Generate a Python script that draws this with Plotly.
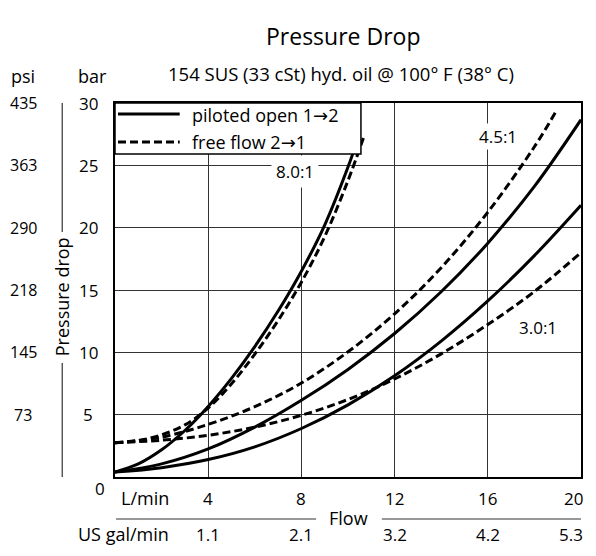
import plotly.graph_objects as go

# ---------------- data ----------------
# 8.0:1 ratio
q_80_pil = [0, 1, 2, 3, 4, 5, 6, 7, 8, 9, 10, 10.4]
p_80_pil = [0.4, 1.05, 2.18, 3.73, 5.66, 7.91, 10.46, 13.31, 16.51, 20.21, 24.86, 27.0]
q_80_free = [0, 1, 2, 3, 4, 5, 6, 7, 8, 9, 10, 10.7]
p_80_free = [2.75, 2.93, 3.38, 4.18, 5.53, 7.48, 9.86, 12.56, 15.63, 19.28, 23.78, 27.4]
# 4.5:1 ratio
q_45_pil = [0, 2, 4, 6, 8, 10, 12, 14, 16, 18, 20]
p_45_pil = [0.4, 1.05, 2.25, 4.0, 6.15, 8.63, 11.51, 14.86, 18.76, 23.31, 28.66]
q_45_free = [0, 2, 4, 6, 8, 10, 12, 14, 16, 18, 18.95]
p_45_free = [2.75, 3.2, 4.22, 5.64, 7.54, 10.04, 13.09, 16.79, 21.24, 26.49, 29.4]
# 3.0:1 ratio
q_30_pil = [0, 2, 4, 6, 8, 10, 12, 14, 16, 18, 20]
p_30_pil = [0.4, 0.75, 1.4, 2.42, 3.89, 5.79, 8.12, 10.9, 14.12, 17.76, 21.8]
q_30_free = [0, 2, 4, 6, 8, 10, 12, 14, 16, 18, 20]
p_30_free = [2.75, 2.95, 3.35, 4.0, 4.95, 6.22, 7.86, 9.88, 12.23, 14.88, 18.0]

flow_ticks = [4, 8, 12, 16, 20]
gal_labels = ["1.1", "2.1", "3.2", "4.2", "5.3"]
bar_ticks = [5, 10, 15, 20, 25, 30]
psi_labels = ["73", "145", "218", "290", "363", "435"]
ratio_labels = ["8.0:1", "4.5:1", "3.0:1"]
ARROW = "<span style='font-family:DejaVu Sans'>\u2192</span>"
legend_texts = ["piloted open 1" + ARROW + "2", "free flow 2" + ARROW + "1"]

# ---------------- layout geometry (screen pixels) ----------------
OFF = 8                      # page body margin
W, H = 596 - 2 * OFF, 556 - 2 * OFF
RIGHT, BOTTOM = OFF + W, OFF + H   # last visible screen pixel of the figure
PL, PR, PT, PB = 115, 583, 103, 477
PW, PH = PR - PL, PB - PT


def px(x):
    return (x - PL) / PW


def py(y):
    return (PB - y) / PH


FONT = "Open Sans"
BLACK = "#000000"
GRID = "#333333"
FS = 18
FN = 17

fig = go.Figure()

curves = [
    (q_80_pil, p_80_pil, "solid"),
    (q_80_free, p_80_free, "8px,4px"),
    (q_45_pil, p_45_pil, "solid"),
    (q_45_free, p_45_free, "8px,4px"),
    (q_30_pil, p_30_pil, "solid"),
    (q_30_free, p_30_free, "8px,4px"),
]
for q, p, dash in curves:
    fig.add_trace(go.Scatter(
        x=q, y=p, mode="lines",
        line=dict(color=BLACK, width=3, dash=dash, shape="spline", smoothing=1),
        showlegend=False, hoverinfo="skip"))

ann = []
shapes = []


def text(t, x, y, size=FS, xref="paper", yref="paper", **kw):
    d = dict(text=t, xref=xref, yref=yref, x=x, y=y, showarrow=False,
             xanchor="center", yanchor="middle",
             font=dict(size=size, family=FONT, color=BLACK))
    d.update(kw)
    ann.append(d)


# title / subtitle
text("Pressure Drop", px(344), py(36), size=23)
text("154 SUS (33 cSt) hyd. oil @ 100\u00b0 F (38\u00b0 C)", px(342), py(74), size=18.5)

# y headers
text("psi", px(23), py(76))
text("bar", px(92), py(76))

# bar and psi tick labels
for b, ps in zip(bar_ticks, psi_labels):
    text(str(b), px(88), b, size=FN, yref="y")
    text(ps, px(23), b, size=16, yref="y")
text("0", px(100), py(489), size=FN)

# pressure drop axis title and its line
text("Pressure drop", px(62), py(297), textangle=-90)
shapes.append(dict(type="line", xref="paper", yref="paper", x0=px(62), x1=px(62), y0=py(103), y1=py(232),
                   line=dict(color=GRID, width=1.2)))
shapes.append(dict(type="line", xref="paper", yref="paper", x0=px(62), x1=px(62), y0=py(363), y1=py(477),
                   line=dict(color=GRID, width=1.2)))

# x tick labels (last column kept inside the visible page)
GAL_Y = 534
text("L/min", px(145), py(498))
for f, g in zip(flow_ticks, gal_labels):
    if f == flow_ticks[-1]:
        text(str(f), px(RIGHT - 1), py(498), size=FN, xanchor="right")
        text(g, px(RIGHT - 1), py(GAL_Y), size=FN, xanchor="right")
    else:
        text(str(f), f, py(498), size=FN, xref="x")
        text(g, f, py(GAL_Y), size=FN, xref="x")
text("US gal/min", px(171), py(GAL_Y), xanchor="right")
text("Flow", px(350), py(518))
shapes.append(dict(type="line", xref="paper", yref="paper", x0=px(116), x1=px(317), y0=py(519), y1=py(519),
                   line=dict(color=GRID, width=1.2)))
shapes.append(dict(type="line", xref="paper", yref="paper", x0=px(383), x1=px(583), y0=py(519), y1=py(519),
                   line=dict(color=GRID, width=1.2)))

# ratio labels
ratio_pos = [(296, 171, 4), (500, 136, 1), (540, 327, 1)]
for lab, (lx, ly, pad) in zip(ratio_labels, ratio_pos):
    text(lab, px(lx), py(ly), size=FN, bgcolor="white", borderpad=pad)

# legend box (drawn on top of curves)
shapes.append(dict(type="rect", xref="paper", yref="paper", x0=px(115), x1=px(362), y0=py(154), y1=py(103),
                   fillcolor="white", line=dict(color=BLACK, width=1.5), layer="above"))
for ly, dash in [(114, "solid"), (142, "8px,4px")]:
    shapes.append(dict(type="line", xref="paper", yref="paper", x0=px(118), x1=px(180), y0=py(ly), y1=py(ly),
                       line=dict(color=BLACK, width=3, dash=dash), layer="above"))
for ly, t in zip([115, 142], legend_texts):
    text(t, px(190), py(ly), xanchor="left")

fig.update_layout(
    width=W, height=H,
    margin=dict(l=PL - OFF, r=RIGHT - PR, t=PT - OFF, b=BOTTOM - PB),
    paper_bgcolor="white", plot_bgcolor="white",
    showlegend=False,
    annotations=ann, shapes=shapes,
    xaxis=dict(range=[0, 20], tickvals=[4, 8, 12, 16], showticklabels=False, ticks="",
               showgrid=True, gridcolor=GRID, gridwidth=1.2, zeroline=False,
               showline=True, mirror=True, linecolor=BLACK, linewidth=2),
    yaxis=dict(range=[0, 30], tickvals=[5, 10, 15, 20, 25], showticklabels=False, ticks="",
               showgrid=True, gridcolor=GRID, gridwidth=1.2, zeroline=False,
               showline=True, mirror=True, linecolor=BLACK, linewidth=2),
)

fig.write_html("out.html")
